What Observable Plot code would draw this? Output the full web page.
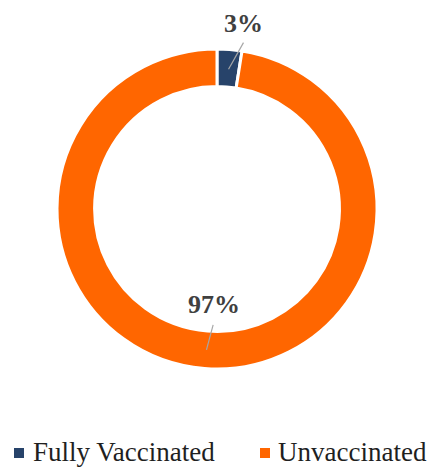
<!DOCTYPE html>
<html>
<head>
<meta charset="utf-8">
<script src="https://cdn.jsdelivr.net/npm/d3@7"></script>
<script src="https://cdn.jsdelivr.net/npm/@observablehq/plot@0.6"></script>
<style>
  html, body { margin: 0; padding: 0; background: #ffffff; }
  #wrap { width: 436px; height: 468px; position: relative; overflow: hidden; }
  #legend { position: relative; height: 43px; font-family: "Liberation Serif", "Times New Roman", serif; font-size: 27px; color: #1f1f1f; }
  .sw { position: absolute; width: 10px; height: 10px; top: 23px; }
  .lt { position: absolute; top: 12px; line-height: 30px; white-space: nowrap; }
</style>
</head>
<body>
<div id="wrap"></div>
<script>
// ---- data ----
const categories = ["Fully Vaccinated", "Unvaccinated"];
const shares = [2.5, 97.5];
const labels = ["3%", "97%"];
const colors = ["#27436A", "#FF6600"];

// ---- layout constants (not data) ----
const innerFrac = 0.77;            // inner radius as share of outer radius
const leaderOffset = [[0.094, 0.167], [0.042, 0.157]];   // leader end relative to ring-middle anchor
const textOffset = [[0.0, 0.067], [0.005, 0.072]];       // text baseline relative to leader end

const data = categories.map((c, i) => ({category: c, share: shares[i], label: labels[i], color: colors[i]}));
const pie = d3.pie().sort(null).value(d => d.share)(data);

const midR = (innerFrac + 1) / 2;
const ann = pie.map((p, i) => {
  const a = (p.startAngle + p.endAngle) / 2;
  const x1 = midR * Math.sin(a), y1 = midR * Math.cos(a);
  const x2 = x1 + leaderOffset[i][0], y2 = y1 + leaderOffset[i][1];
  return {x1, y1, x2, y2, tx: x2 + textOffset[i][0], ty: y2 + textOffset[i][1], label: p.data.label};
});

function donut(index, scales, values, dimensions) {
  const cx = scales.x(0), cy = scales.y(0), R = scales.x(1) - cx;
  const g = d3.create("svg:g").attr("transform", `translate(${cx},${cy})`);
  const arc = d3.arc().innerRadius(R * innerFrac).outerRadius(R + 1);
  g.selectAll("path").data(pie).join("path")
    .attr("d", arc)
    .attr("fill", d => d.data.color)
    .attr("stroke", "#ffffff")
    .attr("stroke-width", 3);
  return g.node();
}

const chart = Plot.plot({
  width: 436,
  height: 425,
  marginLeft: 58,
  marginRight: 60,
  marginTop: 50,
  marginBottom: 57,
  x: {domain: [-1, 1], axis: null},
  y: {domain: [-1, 1], axis: null},
  style: {background: "#ffffff"},
  marks: [
    donut,
    Plot.link(ann, {x1: "x1", y1: "y1", x2: "x2", y2: "y2", stroke: "#A6A6A6", strokeWidth: 1.2}),
    Plot.text(ann, {x: "tx", y: "ty", text: "label", textAnchor: "middle", lineAnchor: "bottom",
      fontSize: 26, fontWeight: "bold", fontFamily: "Liberation Serif, serif", fill: "#404040"})
  ]
});

const wrap = document.getElementById("wrap");
wrap.appendChild(chart);

const legend = document.createElement("div");
legend.id = "legend";
const swLeft = [13.5, 259.5], txtLeft = [33, 278];
categories.forEach((c, i) => {
  const sw = document.createElement("span");
  sw.className = "sw"; sw.style.left = swLeft[i] + "px"; sw.style.background = colors[i];
  const t = document.createElement("span");
  t.className = "lt"; t.style.left = txtLeft[i] + "px"; t.textContent = c;
  legend.appendChild(sw); legend.appendChild(t);
});
wrap.appendChild(legend);
</script>
</body>
</html>
